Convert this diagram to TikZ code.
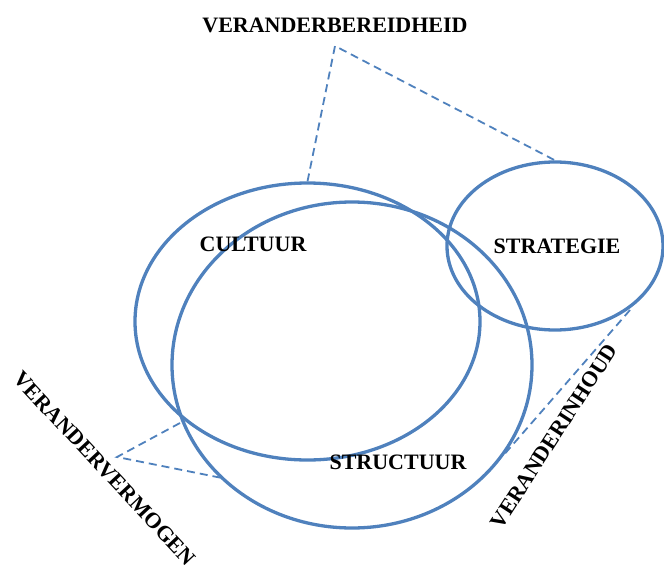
\documentclass[tikz,border=0pt]{standalone}
\usepackage{fontspec}
\setmainfont{Liberation Serif}
\usetikzlibrary{shapes.geometric}
\definecolor{officeblue}{HTML}{4F81BD}
\begin{document}
\begin{tikzpicture}[x=1pt,y=-1pt,
  ring/.style={ellipse,draw=officeblue,line width=3.3pt,inner sep=0pt},
  link/.style={draw=officeblue,line width=1.8pt,dash pattern=on 8pt off 5pt},
  lbl/.style={inner sep=0pt,font=\bfseries\fontsize{22}{26}\selectfont}]
\useasboundingbox (0,0) rectangle (664,567);

% circles of the model
\node[ring,minimum width=345pt,minimum height=277pt] (cult) at (307.5,321.5) {};
\node[ring,minimum width=360pt,minimum height=326pt] (struc) at (352,365) {};
\node[ring,minimum width=216pt,minimum height=168pt] (strat) at (555,246) {};

\node[lbl] (tcult) at (253,244.5) {CULTUUR};
\node[lbl] (tstruc) at (398,462) {STRUCTUUR};
\node[lbl] (tstrat) at (557,246.5) {STRATEGIE};

% outer labels
\node[lbl] (bereid) at (335,25) {VERANDERBEREIDHEID};
\node[lbl,rotate=-47] (vermogen) at (104.5,468.5) {VERANDERVERMOGEN};
\node[lbl,rotate=57] (inhoud) at (554,436) {VERANDERINHOUD};

% dashed brackets
\coordinate (topapex) at (335,46);
\coordinate (leftapex) at (117,457);
\coordinate (leftup) at (180,423);
\coordinate (leftdown) at (222,478);
\coordinate (rightup) at (630,310);
\coordinate (rightdown) at (502,457);

\draw[link] (cult.north) -- (topapex) -- (strat.north);
\draw[link] (leftup) -- (leftapex) -- (leftdown);
\draw[link] (rightup) -- (rightdown);
\end{tikzpicture}
\end{document}
